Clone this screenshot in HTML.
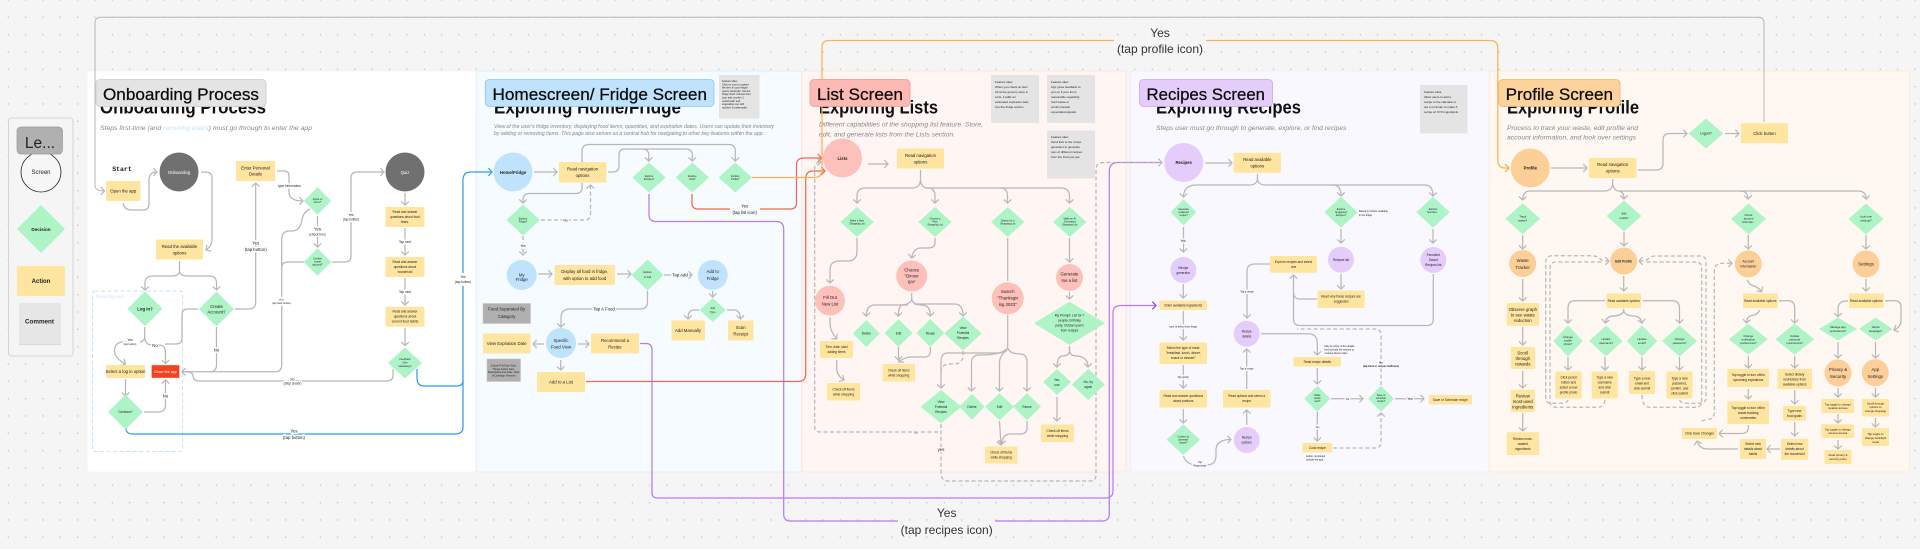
<!DOCTYPE html>
<html><head><meta charset="utf-8"><title>User flow diagram</title>
<style>
html,body{margin:0;padding:0;background:#f5f5f5;width:1920px;height:549px;overflow:hidden}
svg{display:block;filter:blur(.35px)}
text{font-family:"Liberation Sans",sans-serif;fill:#222}
.m{text-anchor:middle}
.s2{font-size:2.5px}.s3{font-size:3.2px}.s4{font-size:4.3px}.s5{font-size:5px}
.g,.d,.n,.nd{fill:none;stroke:#b7b7b7;stroke-width:1.25}
.g,.d{marker-end:url(#mg)}
.d,.nd{stroke-dasharray:4 2.5}
.b{fill:none;stroke:#2d9cfb;stroke-width:1.25}
.r{fill:none;stroke:#f3694e;stroke-width:1.25}
.o{fill:none;stroke:#fdb154;stroke-width:1.25}
.p{fill:none;stroke:#b67bf5;stroke-width:1.25}
.sub{font-size:6.2px;font-style:italic;fill:#888}
.ttl{font-size:18px;font-weight:bold;fill:#111}
.tag{font-size:17px;fill:#0b0b0b;stroke:#0b0b0b;stroke-width:.25px}
.big{font-size:12px;fill:#333;text-anchor:middle}
.cv{paint-order:stroke;stroke-width:3px;stroke-linejoin:round}
.cw{stroke:#fff}.cb{stroke:#f6fbff}.cr{stroke:#fff6f4}.cp{stroke:#faf8ff}.co{stroke:#fff8f2}.cg{stroke:#f5f5f5}
.nt{font-size:3px;fill:#333}
.gy{font-size:2.5px;fill:#aaa}
</style></head>
<body>
<svg width="1920" height="549" viewBox="0 0 1920 549" xmlns="http://www.w3.org/2000/svg">
<defs>
<pattern id="dots" width="17.333" height="17.333" patternUnits="userSpaceOnUse" patternTransform="translate(0 -8.667)"><circle cx="8.33" cy="8.667" r=".7" fill="#bdbdbd"/></pattern>
<marker id="mg" markerUnits="userSpaceOnUse" markerWidth="10" markerHeight="10" refX="5" refY="5" orient="auto" viewBox="0 0 10 10"><path d="M1.4 1.2 5 5 1.4 8.8" fill="none" stroke="#b7b7b7" stroke-width="1.2"/></marker>
<marker id="mb" markerUnits="userSpaceOnUse" markerWidth="10" markerHeight="10" refX="5" refY="5" orient="auto" viewBox="0 0 10 10"><path d="M1.4 1.2 5 5 1.4 8.8" fill="none" stroke="#2d9cfb" stroke-width="1.2"/></marker>
<marker id="mr" markerUnits="userSpaceOnUse" markerWidth="10" markerHeight="10" refX="5" refY="5" orient="auto" viewBox="0 0 10 10"><path d="M1.4 1.2 5 5 1.4 8.8" fill="none" stroke="#f3694e" stroke-width="1.2"/></marker>
<marker id="mo" markerUnits="userSpaceOnUse" markerWidth="10" markerHeight="10" refX="5" refY="5" orient="auto" viewBox="0 0 10 10"><path d="M1.4 1.2 5 5 1.4 8.8" fill="none" stroke="#fda63c" stroke-width="1.2"/></marker>
<marker id="mp" markerUnits="userSpaceOnUse" markerWidth="10" markerHeight="10" refX="5" refY="5" orient="auto" viewBox="0 0 10 10"><path d="M1.4 1.2 5 5 1.4 8.8" fill="none" stroke="#9333ea" stroke-width="1.2"/></marker>
<path id="dm" d="M-1 0 0-1 1 0 0 1z" fill="#aef4c7"/>
</defs>
<rect width="1920" height="549" fill="#f5f5f5"/>
<rect width="1920" height="549" fill="url(#dots)"/>

<!-- panels -->
<rect x="87" y="71" width="389" height="401" rx="3" fill="#fff" stroke="#f0f0f0" stroke-width=".6"/>
<rect x="476.3" y="71" width="325.4" height="401" rx="3" fill="#f6fbff" stroke="#d8ecfb" stroke-width=".7"/>
<rect x="801.7" y="71" width="324.3" height="401" rx="3" fill="#fff6f4" stroke="#fbe0dc" stroke-width=".7"/>
<rect x="1130.7" y="71" width="359.3" height="401" rx="3" fill="#faf8ff" stroke="#eee6fb" stroke-width=".7"/>
<rect x="1489.3" y="71" width="420" height="401" rx="3" fill="#fff8f2" stroke="#fde6cf" stroke-width=".7"/>

<!-- titles -->
<text class="ttl" x="100" y="113.5" textLength="166" lengthAdjust="spacingAndGlyphs">Onboarding Process</text>
<text class="ttl" x="494" y="113.5" textLength="187" lengthAdjust="spacingAndGlyphs">Exploring Home/Fridge</text>
<text class="ttl" x="819" y="113.5" textLength="119" lengthAdjust="spacingAndGlyphs">Exploring Lists</text>
<text class="ttl" x="1156" y="113.5" textLength="145" lengthAdjust="spacingAndGlyphs">Exploring Recipes</text>
<text class="ttl" x="1507" y="113.5" textLength="132" lengthAdjust="spacingAndGlyphs">Exploring Profile</text>

<text class="sub" x="100" y="130" textLength="212" lengthAdjust="spacingAndGlyphs">Steps first-time (and <tspan fill="#bfe0fb">recurring users</tspan>) must go through to enter the app</text>
<text class="sub" x="494" y="128" textLength="280" lengthAdjust="spacingAndGlyphs" style="font-size:5.2px">View of the user's fridge inventory, displaying food items, quantities, and expiration dates. Users can update their inventory</text>
<text class="sub" x="494" y="135" textLength="270" lengthAdjust="spacingAndGlyphs" style="font-size:5.2px">by adding or removing items. This page also serves as a central hub for navigating to other key features within the app.</text>
<text class="sub" x="819" y="126.5" textLength="164" lengthAdjust="spacingAndGlyphs">Different capabilities of the shopping list feature. Store,</text>
<text class="sub" x="819" y="136.5" textLength="136" lengthAdjust="spacingAndGlyphs">edit, and generate lists from the Lists section.</text>
<text class="sub" x="1156" y="130" textLength="190.5" lengthAdjust="spacingAndGlyphs">Steps user must go through to generate, explore, or find recipes</text>
<text class="sub" x="1507" y="130" textLength="131" lengthAdjust="spacingAndGlyphs">Process to track your waste, edit profile and</text>
<text class="sub" x="1507" y="139.5" textLength="129" lengthAdjust="spacingAndGlyphs">account information, and look over settings</text>

<!-- legend -->
<rect x="8.5" y="118" width="64.5" height="238" rx="3" fill="#f5f5f5" stroke="#ccc" stroke-width=".8"/>
<circle cx="41" cy="172" r="20" fill="#f7f7f7" stroke="#222" stroke-width=".8"/>
<use href="#dm" transform="translate(41 229) scale(24)"/>
<rect x="17" y="266" width="48" height="30" rx="1" fill="#ffe59f"/>
<rect x="19" y="304" width="42" height="41" fill="#d8d8d8"/>
<rect x="19" y="303" width="42" height="41" fill="#e6e6e6"/>
<rect x="17" y="127" width="45.5" height="27" rx="4" fill="#b0b0b0" stroke="#999" stroke-width=".7"/>
<text class="m" x="40" y="148" style="font-size:15.5px">Le...</text>
<text class="m" x="41" y="174.2" style="font-size:6px">Screen</text>
<text class="m" x="41" y="231" style="font-size:4.6px;font-weight:bold">Decision</text>
<text class="m" x="41" y="283" style="font-size:6px;font-weight:bold">Action</text>
<text class="m" x="39.5" y="323.5" style="font-size:6.3px;font-weight:bold">Comment</text>

<!-- long connectors: grey -->
<path class="g" d="M1764 122V23Q1764 17.3 1758 17.3H101Q95 17.3 95 23V185Q95 191 104.5 191" style="stroke-width:1"/>

<!-- onboarding connectors -->
<rect x="92.5" y="291" width="90" height="160.5" rx="2" fill="none" stroke="#c5e3fb" stroke-width="1" stroke-dasharray="4 2.5"/>
<path class="g" d="M123 203Q124 210 132 210H143Q149 210 149 204V180Q149 172 157 172"/>
<path class="g" d="M201 172H205Q212 172 212 178V240Q212 246 206 250"/>
<path class="n" d="M179.5 261V272"/>
<path class="g" d="M179.5 272Q178 276 172 276H153Q145 276 145 283V290"/>
<path class="g" d="M179.5 272Q181 276 187 276H209Q216.5 276 216.5 283V290"/>
<path class="g" d="M235 309H249Q255.7 309 255.7 302V183"/>
<path class="g" d="M277 171H284Q289 171 289 176V192Q289 201 303 201"/>
<path class="n" d="M310 209Q303 212 302 220Q300 231 292 231H288Q281.7 232 281.7 240V365Q281.7 371.7 275 371.7H210"/>
<path class="n" d="M304 262H288Q281.7 262 281.7 268"/>
<path class="g" d="M317.5 216V247"/>
<path class="g" d="M332 262H345Q351 262 351 256V178Q351 172 357 172H384"/>
<path class="g" d="M405 193V205"/>
<path class="g" d="M405 228V255"/>
<path class="g" d="M405 278V305"/>
<path class="g" d="M405 328V345.5"/>
<path class="g" d="M216.5 327V365Q216.5 371.7 210 371.7H182"/>
<path class="n" d="M393 369V375Q393 381 387 381H199Q193 381 193 375Q192 372 186 371.7"/>
<path class="n" d="M144.7 327V337Q144.7 341 140 342"/>
<path class="g" d="M133 342H122Q114.5 343 114.5 351Q114.5 358 125.5 364"/>
<path class="g" d="M144.7 337Q145 345 152 345H160Q165.5 346 165.5 353V363.5"/>
<path class="n" d="M165 344H176Q182 344 182 338V315Q182 309 188 309H198"/>
<path class="g" d="M125.5 379V396"/>
<path class="g" d="M144 412H158Q165.5 412 165.5 405V380"/>
<path class="b" d="M125.5 428Q126 434 133 434H455Q463 434 463 427V286M463 273V180Q463 172 471 172H492" style="marker-end:url(#mb)"/>
<path class="b" d="M417 369V378Q417 386 424 386H457Q463 386 463 380"/>

<!-- home connectors -->
<path class="g" d="M534 172H557"/>
<path class="g" d="M582 162V151Q582 144.5 589 144.5H729Q735.3 144.5 735.3 151V161"/>
<path class="g" d="M608 172H613Q619 172 619 166V155Q619 149 625 149H686Q692.3 149 692.3 155V161"/>
<path class="g" d="M642 149Q648.7 149 648.7 155V161"/>
<path class="g" d="M582 183V188Q582 193.5 575 193.5H530Q523 193.5 523 200V203"/>
<path class="d" d="M541 220H584Q590.5 220 590.5 214V185"/>
<path class="d" d="M523 236V255"/>
<path class="g" d="M538 274H552"/>
<path class="g" d="M617 274H631"/>
<path class="g" d="M664 275H692"/>
<path class="g" d="M712.7 291V297"/>
<path class="g" d="M699 310H694Q688 310 688 319"/>
<path class="g" d="M727 310H734Q740 310 740.5 319"/>
<path class="g" d="M647.5 291V302Q647.5 309 640 309H570Q561 309 561 318V327"/>
<path class="g" d="M544 344H533"/>
<path class="g" d="M578 344H589"/>
<path class="g" d="M560.7 360V370"/>

<!-- colored long lines -->
<path class="p" d="M640 343.5H646Q652 343.5 652 350V493Q652 498 658 498H1105Q1113 498 1113 491V313Q1113 305.5 1121 305.5H1156" style="marker-end:url(#mp)"/>
<path class="p" d="M649 194V215Q649 221.5 656 221.5H776Q783.7 221.5 783.7 229V514Q783.7 521 790 521H898M995 521H1102Q1109.3 521 1109.3 514V171Q1109.3 162.5 1118 162.5H1162" style="marker-end:url(#mg)"/>
<path class="r" d="M692 194V203Q692 209 698 209H730M760 209H790Q796.5 209 796.5 203V165Q796.5 158 804 158H821.5" style="marker-end:url(#mr)"/>
<path class="r" d="M586 381.5H798Q805.7 381.5 805.7 374V179Q805.7 171 813 171H825" style="marker-end:url(#mr)"/>
<path class="o" d="M752 177.5H814Q822 177.5 822 170V47Q822 40.5 829 40.5H1114M1206 40.5H1490Q1497.8 40.5 1497.8 48V160Q1497.8 168 1505 168H1509" style="marker-end:url(#mo)"/>

<!-- list connectors -->
<path class="g" d="M868 164H888"/>
<path class="n" d="M920.5 170V180"/>
<path class="g" d="M920.5 180Q920 188 912 188H865Q857 188 857 196V203"/>
<path class="g" d="M920.5 180Q921 188 928 188Q935 188 935 196V203"/>
<path class="g" d="M925 188H1000Q1007.5 188 1007.5 196V203"/>
<path class="g" d="M1000 188H1061Q1069.5 188 1069.5 196V203"/>
<path class="g" d="M857 238V251Q857 261 848 261H838Q830 262 830 270V283"/>
<path class="g" d="M935 238V243Q935 248 928 248H920Q913 249 911.7 258"/>
<path class="g" d="M1069.5 238V262"/>
<path class="g" d="M1069.5 292V299"/>
<path class="n" d="M1007.7 238V281"/>
<path class="g" d="M1069.5 346V350Q1069.5 356 1062 356Q1057 357 1057 367"/>
<path class="g" d="M1069.5 346V350Q1069.5 356 1077 356Q1088 357 1088 367"/>
<path class="g" d="M1057 397V421"/>
<path class="g" d="M830 317V323Q830 331 836.7 339"/>
<path class="g" d="M836.7 360V368Q837 376 844 380"/>
<path class="n" d="M911.7 293V300"/>
<path class="g" d="M911.7 300Q909 305 900 305H875Q866.3 305 866.3 316"/>
<path class="g" d="M908 305H903Q898.3 305 898.3 316"/>
<path class="g" d="M912 300Q914 305 922 305Q930.3 305 930.3 316"/>
<path class="g" d="M914 304H955Q963 304 963 316"/>
<path class="g" d="M898.5 347V360"/>
<path class="g" d="M930.3 347V352Q930 357 924 357H910Q903 358 899 362"/>
<path class="n" d="M1007.7 315V348"/>
<path class="g" d="M1007.7 348Q1005 353 998 353H948Q941 353 941 361V388"/>
<path class="g" d="M1007.7 348Q1003 355 979 355Q971.5 355 971.5 363V391"/>
<path class="g" d="M1007 350Q1000 355 999.5 362V391"/>
<path class="g" d="M1007.7 348Q1010 354 1020 354Q1027 354 1027 362V391"/>
<path class="g" d="M999.5 421L1001 445"/>
<path class="g" d="M1027 421V428Q1027 434 1020 434H1010Q1003 434 1001.5 444"/>
<path class="nd" d="M963 351V355Q963 363 955 364H948Q941 365 941 372"/>
<path class="d" d="M938 432H820Q814.7 432 814.7 427V168Q814.7 162 821 162"/>
<path class="nd" d="M941 424V472Q941 481 948 481H1090Q1096 481 1096 475V170Q1096 162.5 1103 162.5H1162"/>

<!-- recipes connectors -->
<path class="g" d="M1205 163H1232"/>
<path class="n" d="M1257.5 174V179"/>
<path class="g" d="M1257.5 179Q1257 185 1249 185H1195Q1183.5 186 1183.5 197"/>
<path class="g" d="M1257.5 179Q1258 185 1266 185H1333Q1341 185 1341 196"/>
<path class="g" d="M1330 185H1425Q1433 185 1433 196"/>
<path class="g" d="M1183.5 227V252"/>
<path class="g" d="M1341 229V243"/>
<path class="g" d="M1433 229V243"/>
<path class="g" d="M1341 274V289"/>
<path class="g" d="M1183.3 284V298"/>
<path class="g" d="M1183.3 311V340"/>
<path class="g" d="M1183.3 365V388"/>
<path class="g" d="M1183.3 409V423"/>
<path class="g" d="M1270 264H1255Q1247 264 1247 271V318"/>
<path class="n" d="M1317 299H1300Q1293.5 299 1293.5 292"/>
<path class="g" d="M1433.3 274V319Q1433.3 325.5 1427 325.5H1300Q1293.5 325.5 1293.5 319V275"/>
<path class="g" d="M1183.5 456Q1186 464.7 1196 464.7H1208Q1216 464.7 1216 455V449Q1217 439.5 1231 439.5"/>
<path class="g" d="M1246.7 425V410"/>
<path class="g" d="M1246.7 389V349"/>
<path class="g" d="M1261 333.7H1308Q1317.3 333.7 1317.3 343V355"/>
<path class="g" d="M1317.3 368V384"/>
<path class="g" d="M1331 398.7H1363"/>
<path class="g" d="M1395 398.7H1424"/>
<path class="g" d="M1317.3 412V441"/>
<path class="d" d="M1333 448H1375Q1381 448 1381 442V413"/>
<path class="nd" d="M1381 385V335Q1381 329 1375 329H1297"/>

<!-- profile connectors -->
<path class="g" d="M1551 168H1587"/>
<path class="g" d="M1638 170H1656Q1663 170 1663 163V140Q1663 133.5 1670 133.5H1687"/>
<path class="g" d="M1725 133.5H1739"/>
<path class="n" d="M1612.7 179V184"/>
<path class="g" d="M1612.7 184Q1612 191 1604 191H1530Q1522.7 191 1522.7 200"/>
<path class="g" d="M1612.7 184Q1614 191 1619 191Q1624 192 1624 199"/>
<path class="g" d="M1620 191H1740Q1748 191 1748 199"/>
<path class="g" d="M1740 191H1858Q1866 191 1866 199"/>
<path class="g" d="M1522.7 235V249"/>
<path class="g" d="M1624 232V246"/>
<path class="g" d="M1748.3 235V249"/>
<path class="g" d="M1866 235V249"/>
<path class="g" d="M1522.7 279V301"/>
<path class="g" d="M1522.7 327V345"/>
<path class="g" d="M1522.7 371V388"/>
<path class="g" d="M1522.7 413V431"/>
<path class="g" d="M1623.7 276V291"/>
<path class="g" d="M1605 300.7H1575Q1568 300.7 1568 308V323"/>
<path class="g" d="M1643 300.7H1672Q1679.5 300.7 1679.5 308V323"/>
<path class="g" d="M1623.7 309V311Q1622 316 1612 316Q1606 317 1605 323"/>
<path class="g" d="M1623.7 309V311Q1625 316 1635 316Q1641 317 1642 323"/>
<path class="g" d="M1568 357V370"/>
<path class="g" d="M1605 357V370"/>
<path class="g" d="M1642 357V370"/>
<path class="g" d="M1679.5 357V370"/>
<path class="d" d="M1568 400Q1567 403.3 1562 403.3H1550Q1545.7 403 1545.7 398V262Q1545.7 255.7 1552 255.7H1592Q1598 256 1600 259Q1602 261 1609 261"/>
<path class="nd" d="M1605 400Q1604 407.3 1598 407.3H1556Q1550 407 1550 401V268Q1550 262 1556 262H1603"/>
<path class="d" d="M1679.5 400Q1681 403.3 1686 403.3H1700Q1706 403 1706 398V262Q1706 256 1700 256H1656Q1650 256 1648 259Q1646 261 1639 261"/>
<path class="nd" d="M1642 395Q1642 407.3 1650 407.3H1696Q1701.7 407 1701.7 401V268Q1701.7 262 1696 262H1645"/>
<path class="d" d="M1701.7 421Q1707 419 1710 419Q1714.3 418 1714.3 412V272Q1714.3 263.3 1722 263.3H1732"/>
<path class="g" d="M1747.3 280Q1749 285 1755 286.5Q1759 288 1761.7 291.7"/>
<path class="g" d="M1760 310Q1757 315 1752 315.5Q1747 316 1746.5 323"/>
<path class="g" d="M1779 300.7H1788Q1794.7 300.7 1794.7 308V323"/>
<path class="g" d="M1748.3 356V368"/>
<path class="g" d="M1748.3 389V399"/>
<path class="g" d="M1748.3 425V428Q1748 433.5 1741 433.5H1719"/>
<path class="g" d="M1794.7 356V368"/>
<path class="g" d="M1794.7 390V404"/>
<path class="g" d="M1794.7 422V436"/>
<path class="g" d="M1780 449H1767"/>
<path class="g" d="M1738 449H1708Q1699 449 1697 441"/>
<path class="g" d="M1866 279V291"/>
<path class="g" d="M1848 301H1845Q1838 302 1838 309V316.7"/>
<path class="g" d="M1885 300.7H1895Q1901 301 1901 307V320Q1901 327 1894 330"/>
<path class="g" d="M1838 342V358"/>
<path class="g" d="M1875.5 342V358"/>
<path class="g" d="M1838 388V397"/>
<path class="g" d="M1838 414V423"/>
<path class="g" d="M1838 440V449"/>
<path class="g" d="M1875.5 388V397"/>
<path class="g" d="M1875.5 418V427"/>

<!-- action rects -->
<g fill="#ffe59f">
<rect x="106" y="181" width="34.5" height="20" rx="1"/>
<rect x="156" y="239.5" width="47" height="20" rx="1"/>
<rect x="236" y="161" width="39" height="20" rx="1"/>
<rect x="385.5" y="207" width="39" height="20" rx="1"/>
<rect x="385.5" y="257" width="39" height="20" rx="1"/>
<rect x="385.5" y="306.7" width="39" height="20" rx="1"/>
<rect x="106" y="365" width="39" height="13" rx="1"/>
<rect x="559" y="162" width="47.5" height="20.5" rx="1"/>
<rect x="554.5" y="265" width="60.5" height="20" rx="1"/>
<rect x="671.5" y="320.5" width="33.5" height="20" rx="1"/>
<rect x="728" y="320.5" width="25.5" height="20" rx="1"/>
<rect x="483" y="333.5" width="47.5" height="20" rx="1"/>
<rect x="591" y="333.5" width="48" height="20" rx="1"/>
<rect x="537" y="372" width="48" height="20" rx="1"/>
<rect x="897" y="148.5" width="47" height="20" rx="1"/>
<rect x="820" y="341" width="33" height="17" rx="1"/>
<rect x="827" y="383" width="33" height="17.5" rx="1"/>
<rect x="882.5" y="364" width="32.5" height="17.5" rx="1"/>
<rect x="985" y="446.5" width="32.5" height="17" rx="1"/>
<rect x="1041" y="424.5" width="33" height="17.5" rx="1"/>
<rect x="1233.7" y="152.7" width="47.3" height="20" rx="1"/>
<rect x="1270" y="256" width="47" height="16.7" rx="1"/>
<rect x="1317.5" y="290.5" width="47.2" height="17.5" rx="1"/>
<rect x="1159.5" y="300.5" width="47.5" height="9.5" rx="1"/>
<rect x="1159.5" y="342.5" width="47.5" height="21.5" rx="1"/>
<rect x="1159.5" y="390" width="47.5" height="17.5" rx="1"/>
<rect x="1223" y="390" width="47.5" height="17.5" rx="1"/>
<rect x="1293.5" y="357" width="47.5" height="9.5" rx="1"/>
<rect x="1428.7" y="395" width="43.3" height="9.5" rx="1"/>
<rect x="1302.5" y="443" width="29.5" height="9.5" rx="1"/>
<rect x="1589" y="158" width="47.5" height="20" rx="1"/>
<rect x="1741" y="123.3" width="47" height="20" rx="1"/>
<rect x="1506.7" y="303" width="32.3" height="22.7" rx="1"/>
<rect x="1510.7" y="347" width="24.3" height="22" rx="1"/>
<rect x="1510.7" y="389.7" width="24.3" height="22.3" rx="1"/>
<rect x="1506.7" y="432.3" width="32.3" height="22.7" rx="1"/>
<rect x="1606.5" y="293.5" width="34.5" height="14.5" rx="1"/>
<rect x="1555.3" y="371.5" width="26.4" height="27" rx="1"/>
<rect x="1591.7" y="371.5" width="26" height="27" rx="1"/>
<rect x="1629" y="371" width="26" height="23" rx="1"/>
<rect x="1666.5" y="371.5" width="26" height="27" rx="1"/>
<rect x="1743" y="293.5" width="34.7" height="14.5" rx="1"/>
<rect x="1727.3" y="369" width="41.7" height="18" rx="1"/>
<rect x="1727.3" y="401.3" width="41.7" height="22.7" rx="1"/>
<rect x="1682" y="428" width="35" height="11" rx="1"/>
<rect x="1777.5" y="369" width="34.5" height="20" rx="1"/>
<rect x="1783" y="406" width="23" height="14.7" rx="1"/>
<rect x="1781" y="438.7" width="27.3" height="21" rx="1"/>
<rect x="1740" y="439" width="26" height="20" rx="1"/>
<rect x="1849" y="293.5" width="34.7" height="14.5" rx="1"/>
<rect x="1821.5" y="399" width="32.5" height="14" rx="1"/>
<rect x="1821.5" y="424.3" width="32.5" height="13.7" rx="1"/>
<rect x="1824.5" y="450" width="27" height="14" rx="1"/>
<rect x="1862" y="399" width="27" height="17.5" rx="1"/>
<rect x="1862" y="428.3" width="27" height="17.7" rx="1"/>
</g>
<rect x="151.5" y="365" width="28" height="13" fill="#f2431e" stroke="#d9d9d9" stroke-width=".5"/>

<!-- dark / comment rects -->
<rect x="483" y="303.5" width="47.5" height="20" fill="#b0b0b0" stroke="#c4c4c4" stroke-width=".5"/>
<rect x="487" y="359" width="33.5" height="22.5" fill="#b0b0b0" stroke="#c4c4c4" stroke-width=".5"/>
<g fill="#e4e4e4">
<rect x="719" y="75" width="40.5" height="43.5"/>
<rect x="991" y="75" width="48" height="48"/>
<rect x="1047" y="75" width="48" height="48"/>
<rect x="1047" y="130.5" width="48" height="48"/>
<rect x="1420" y="85" width="47.5" height="48.5"/>
</g>

<!-- circles -->
<g fill="#707070"><circle cx="179" cy="172" r="19.5"/><circle cx="405" cy="172" r="19.5"/></g>
<g fill="#bfe3fd"><circle cx="513" cy="172" r="19.5"/><circle cx="521.7" cy="275" r="15"/><circle cx="712.7" cy="275" r="15"/><circle cx="561" cy="343" r="15"/></g>
<g fill="#fec0ba"><circle cx="842.5" cy="158" r="19.5"/><circle cx="830" cy="300.7" r="15"/><circle cx="911.7" cy="276" r="15.5"/><circle cx="1007.7" cy="298.3" r="16"/><circle cx="1069.5" cy="277.5" r="13.5"/></g>
<g fill="#e4cdfb"><circle cx="1183.7" cy="162.5" r="19.5"/><circle cx="1183.3" cy="270" r="13"/><circle cx="1341" cy="259.7" r="13"/><circle cx="1433.3" cy="260" r="13"/><circle cx="1246.7" cy="333.7" r="13"/><circle cx="1246.7" cy="440" r="13"/></g>
<g fill="#fdcf98"><circle cx="1530.3" cy="168" r="19.5"/><circle cx="1522.7" cy="263.5" r="13.5"/><circle cx="1623.7" cy="261" r="13.5"/><circle cx="1748.3" cy="264" r="13.5"/><circle cx="1866" cy="264" r="13.5"/><circle cx="1838" cy="373" r="13.5"/><circle cx="1875.3" cy="372.7" r="13.5"/></g>

<!-- diamonds -->
<use href="#dm" transform="translate(145 308.7) scale(17.5)"/>
<use href="#dm" transform="translate(216.5 309) scale(17.5)"/>
<use href="#dm" transform="translate(317.5 201) scale(13.7)"/>
<use href="#dm" transform="translate(317.5 262) scale(13.7)"/>
<use href="#dm" transform="translate(405 363) scale(17 15.5)"/>
<use href="#dm" transform="translate(125.5 412) scale(17.5)"/>
<use href="#dm" transform="translate(649 177.5) scale(16.7 15)"/>
<use href="#dm" transform="translate(692.3 177.5) scale(16.7 15)"/>
<use href="#dm" transform="translate(735.3 177.5) scale(16.7 15)"/>
<use href="#dm" transform="translate(523 220) scale(16.7 15.5)"/>
<use href="#dm" transform="translate(647.5 275) scale(16 15.5)"/>
<use href="#dm" transform="translate(712.7 310) scale(13 12)"/>
<use href="#dm" transform="translate(857 222) scale(16.7 15)"/>
<use href="#dm" transform="translate(935 222) scale(16.7 15)"/>
<use href="#dm" transform="translate(1007.7 222) scale(16.7 15)"/>
<use href="#dm" transform="translate(1069.7 222) scale(16.7 15)"/>
<use href="#dm" transform="translate(866.3 333.5) scale(13.5)"/>
<use href="#dm" transform="translate(898.5 333) scale(14)"/>
<use href="#dm" transform="translate(930.3 333) scale(14)"/>
<use href="#dm" transform="translate(963 333.5) scale(18.7 17)"/>
<use href="#dm" transform="translate(941 406.7) scale(20.5 16.7)"/>
<use href="#dm" transform="translate(972 406.7) scale(12.7 13)"/>
<use href="#dm" transform="translate(999.5 406.7) scale(14.5 13.5)"/>
<use href="#dm" transform="translate(1027 406.7) scale(14 13.5)"/>
<use href="#dm" transform="translate(1069.5 323.3) scale(35.5 21.7)"/>
<use href="#dm" transform="translate(1057 382) scale(14 13)"/>
<use href="#dm" transform="translate(1088.3 384.5) scale(16.6 15.5)"/>
<use href="#dm" transform="translate(1183.5 212.3) scale(13)"/>
<use href="#dm" transform="translate(1341 212.3) scale(16.7 15.5)"/>
<use href="#dm" transform="translate(1433 212.3) scale(16.7 15.5)"/>
<use href="#dm" transform="translate(1183.3 439.7) scale(16.7 15.3)"/>
<use href="#dm" transform="translate(1317.3 398.7) scale(13)"/>
<use href="#dm" transform="translate(1381 398.7) scale(13)"/>
<use href="#dm" transform="translate(1706 133.5) scale(17.3 15)"/>
<use href="#dm" transform="translate(1522.7 218.7) scale(17.5 15.5)"/>
<use href="#dm" transform="translate(1624 216) scale(17.5 15.5)"/>
<use href="#dm" transform="translate(1748.5 219) scale(17.5 15.5)"/>
<use href="#dm" transform="translate(1866 219) scale(17.5 15.5)"/>
<use href="#dm" transform="translate(1568 341) scale(14.7 15.5)"/>
<use href="#dm" transform="translate(1606 341) scale(16.7 15.5)"/>
<use href="#dm" transform="translate(1642 341) scale(15.3 15.5)"/>
<use href="#dm" transform="translate(1679.5 341) scale(17.5 15.5)"/>
<use href="#dm" transform="translate(1748.3 339.3) scale(19.5 15.5)"/>
<use href="#dm" transform="translate(1794.7 339.3) scale(19.5 15.5)"/>
<use href="#dm" transform="translate(1838 329) scale(19 11.5)"/>
<use href="#dm" transform="translate(1875.7 329) scale(16.7 11.5)"/>

<!-- tags -->
<rect x="96" y="79.5" width="170" height="27" rx="4" fill="#e4e4e4" stroke="#ccc" stroke-width=".8"/>
<rect x="485.3" y="79.5" width="228.7" height="27" rx="4" fill="#bfe3fd" stroke="#8dc6ef" stroke-width=".8"/>
<rect x="810" y="79.5" width="100" height="27" rx="4" fill="#fdb9b3" stroke="#e79c95" stroke-width=".8"/>
<rect x="1139.5" y="79.5" width="133" height="27" rx="4" fill="#e4cdfb" stroke="#c9a9ec" stroke-width=".8"/>
<rect x="1498.7" y="79.5" width="121.3" height="27" rx="4" fill="#fdd39b" stroke="#e7b87a" stroke-width=".8"/>
<text class="tag" x="103" y="100" textLength="156" lengthAdjust="spacingAndGlyphs">Onboarding Process</text>
<text class="tag" x="492.5" y="100" textLength="214.5" lengthAdjust="spacingAndGlyphs">Homescreen/ Fridge Screen</text>
<text class="tag" x="817" y="100" textLength="86" lengthAdjust="spacingAndGlyphs">List Screen</text>
<text class="tag" x="1146.5" y="100" textLength="118.5" lengthAdjust="spacingAndGlyphs">Recipes Screen</text>
<text class="tag" x="1505.7" y="100" textLength="107.3" lengthAdjust="spacingAndGlyphs">Profile Screen</text>

<!-- big labels -->
<text class="big" x="1160" y="37">Yes</text>
<text class="big" x="1160" y="53">(tap profile icon)</text>
<text class="big" x="946.7" y="517">Yes</text>
<text class="big" x="946.7" y="534">(tap recipes icon)</text>

<!-- onboarding text -->
<text class="m" x="122" y="171" style="font-family:'Liberation Mono',monospace;font-size:6.5px;font-weight:bold">Start</text>
<g class="s4">
<text class="m" x="123.3" y="192.6">Open the app</text>
<text class="m" x="179.5" y="248">Read the available</text><text class="m" x="179.5" y="254.5">options</text>
<text class="m" x="255.5" y="169.5">Enter Personal</text><text class="m" x="255.5" y="175.5">Details</text>
<text class="m" x="125.5" y="373">Select a log in option</text>
<text class="m" x="165.5" y="373" style="fill:#fff;font-size:3.8px">Close the app</text>
<text class="m" x="179" y="174" style="fill:#fff">Onboarding</text>
<text class="m" x="405" y="174" style="fill:#fff">Quiz</text>
<text class="m" x="145" y="310.3" style="font-weight:bold">Log in?</text>
<text class="m" x="216.5" y="308">Create</text><text class="m" x="216.5" y="313.5">Account?</text>
</g>
<g class="s3">
<text class="m" x="405" y="213">Read and answer</text><text class="m" x="405" y="218">questions about food</text><text class="m" x="405" y="223">fears.</text>
<text class="m" x="405" y="263">Read and answer</text><text class="m" x="405" y="268">questions about</text><text class="m" x="405" y="273">household</text>
<text class="m" x="405" y="312.5">Read and answer</text><text class="m" x="405" y="317.5">questions about</text><text class="m" x="405" y="322.5">current food habits</text>
<text class="m" x="125.5" y="413">Continue?</text>
</g>
<g class="s2">
<text class="m" x="317.5" y="200">Agree to</text><text class="m" x="317.5" y="203">terms?</text>
<text class="m" x="317.5" y="259.5">Confirm</text><text class="m" x="317.5" y="262.5">create</text><text class="m" x="317.5" y="265.5">account?</text>
<text class="m" x="405" y="360">Feedback</text><text class="m" x="405" y="363.5">(See</text><text class="m" x="405" y="367">takeaways)</text>
</g>
<text x="96" y="298" style="font-size:4.3px;fill:#c5e3fb">Recurring user</text>
<g class="cv cw">
<text class="m s3" x="289.5" y="187">type information</text>
<text class="m s4" x="255.7" y="244.5">Yes</text><text class="m s4" x="255.7" y="251">(tap button)</text>
<text class="m s4" x="317.5" y="230.5">Yes</text><text class="m s3" x="317.5" y="235.5">(check box)</text>
<text class="m s3" x="351" y="216">Yes</text><text class="m s3" x="351" y="220.5">(tap button)</text>
<text class="m s3" x="405" y="243">Tap next</text><text class="m s3" x="405" y="293">Tap next</text>
<text class="m s3" x="281.5" y="301">No</text><text class="m s2" x="281.5" y="304">(tap back button)</text>
<text class="m s4" x="216.5" y="351.5">No</text>
<text class="m s3" x="292.5" y="380.5">No</text><text class="m s3" x="292.5" y="384.5">(Step closer)</text>
<text class="m s3" x="130" y="341">Yes</text><text class="m s2" x="130" y="345">(tap button)</text>
<text class="m s4" x="155" y="347">No</text>
<text class="m s4" x="165.5" y="397.5">No</text>
<text class="m s4" x="294" y="432.5">Yes</text><text class="m s4" x="294" y="439">(tap button)</text>
<text class="m s3" x="463" y="278">Yes</text><text class="m s3" x="463" y="283">(tap button)</text>
</g>

<!-- home text -->
<g class="s4">
<text class="m" x="513" y="174" style="font-weight:bold">Home/Fridge</text>
<text class="m" x="582.5" y="170.5">Read navigation</text><text class="m" x="582.5" y="177">options</text>
<text class="m" x="521.7" y="276.5">My</text><text class="m" x="521.7" y="281">Fridge</text>
<text class="m" x="584.7" y="273">Display all food in fridge,</text><text class="m" x="584.7" y="280">with option to add food</text>
<text class="m" x="712.7" y="273">Add to</text><text class="m" x="712.7" y="280">Fridge</text>
<text class="m" x="688" y="332">Add Manually</text>
<text class="m" x="740.7" y="329">Scan</text><text class="m" x="740.7" y="335.5">Receipt</text>
<text class="m" x="506.7" y="310.5">Food Separated By</text><text class="m" x="506.7" y="318">Category</text>
<text class="m" x="506.7" y="345">View Expiration Date</text>
<text class="m" x="561" y="342">Specific</text><text class="m" x="561" y="348.5">Food View</text>
<text class="m" x="615" y="342">Recommend a</text><text class="m" x="615" y="348.5">Recipe</text>
<text class="m" x="561" y="383.5">Add to a List</text>
</g>
<g class="s2">
<text class="m" x="649" y="177">Explore</text><text class="m" x="649" y="180">Recipes?</text>
<text class="m" x="692.3" y="177">Explore</text><text class="m" x="692.3" y="180">Lists?</text>
<text class="m" x="735.3" y="177">Explore</text><text class="m" x="735.3" y="180">Profile?</text>
<text class="m" x="523" y="219.5">Explore</text><text class="m" x="523" y="222.5">Fridge?</text>
<text class="m" x="647.5" y="273">Explore</text><text class="m" x="647.5" y="278">or Add</text>
<text class="m" x="712.7" y="309">Add</text><text class="m" x="712.7" y="313">Type</text>
<text class="m" x="503.7" y="366.5">Include Pull Date Style:</text><text class="m" x="503.7" y="369.8">Things Gotten Next,</text><text class="m" x="503.7" y="373">Reappraisal Use Date, Style</text><text class="m" x="503.7" y="376.3">of Cartridge, Remove</text>
</g>
<g class="cv cb">
<text class="m s3" x="565.5" y="221.5">No</text>
<text class="m s3" x="523" y="247">Yes</text>
<text class="m s4" x="680" y="276.5">Tap Add</text>
<text class="m s4" x="604" y="310.5">Tap A Food</text>
<text class="m s4" x="744.7" y="207.5">Yes</text><text class="m s4" x="744.7" y="214">(tap list icon)</text>
</g>
<g class="nt" style="font-size:2.6px">
<text x="722" y="82">Feature Idea:</text><text x="722" y="85.3">Click on icon to explore</text><text x="722" y="88.6">the item in your fridge/</text><text x="722" y="91.9">pantry. Example: Gemini</text><text x="722" y="95.2">fridge shelf: it shows fruit</text><text x="722" y="98.5">(can add number 1</text><text x="722" y="101.8">underneath and</text><text x="722" y="105.1">vegetables too with</text><text x="722" y="108.4">number 3 underneath</text>
</g>

<!-- list text -->
<g class="s4">
<text class="m" x="842.5" y="160" style="font-weight:bold">Lists</text>
<text class="m" x="920.5" y="157">Read navigation</text><text class="m" x="920.5" y="163.5">options</text>
<text class="m" x="830" y="299">Fill Out</text><text class="m" x="830" y="305.5">New List</text>
<text class="m" x="911.7" y="271.5">Choose</text><text class="m" x="911.7" y="277.5">"Dinner</text><text class="m" x="911.7" y="283.5">8/4"</text>
<text class="m" x="1007.7" y="293">Search</text><text class="m" x="1007.7" y="299.5">"Thanksgiv</text><text class="m" x="1007.7" y="306">ing 2023"</text>
<text class="m" x="1069.5" y="275.5">Generate</text><text class="m" x="1069.5" y="282">me a list</text>
</g>
<g class="s3">
<text class="m" x="1069.5" y="316.5">My Prompt: List for 7</text><text class="m" x="1069.5" y="321.5">people, birthday</text><text class="m" x="1069.5" y="326.5">party, Chicken parm</text><text class="m" x="1069.5" y="331.5">from recipes</text>
<text class="m" x="866.3" y="334.5">Delete</text><text class="m" x="898.5" y="334.5">Edit</text><text class="m" x="930.3" y="334.5">Reuse</text>
<text class="m" x="963" y="329">View</text><text class="m" x="963" y="334">Potential</text><text class="m" x="963" y="339">Recipes</text>
<text class="m" x="941" y="403">View</text><text class="m" x="941" y="408">Potential</text><text class="m" x="941" y="413">Recipes</text>
<text class="m" x="972" y="408">Delete</text><text class="m" x="999.5" y="408">Edit</text><text class="m" x="1027" y="408">Reuse</text>
<text class="m" x="1057" y="381">Yes,</text><text class="m" x="1057" y="386">use</text>
<text class="m" x="1088.3" y="383">No, try</text><text class="m" x="1088.3" y="388">again</text>
<text class="m" x="836.5" y="348">Trim, date, start</text><text class="m" x="836.5" y="353">adding items</text>
<text class="m" x="843.5" y="390.5">Check off items</text><text class="m" x="843.5" y="395.5">while shopping</text>
<text class="m" x="898.7" y="371.5">Check off items</text><text class="m" x="898.7" y="376.5">while shopping</text>
<text class="m" x="1001.2" y="453.5">Check off items</text><text class="m" x="1001.2" y="458.5">while shopping</text>
<text class="m" x="1057.5" y="432">Check off items</text><text class="m" x="1057.5" y="437">while shopping</text>
</g>
<g class="s2">
<text class="m" x="857" y="221.5">Make a New</text><text class="m" x="857" y="224.5">Shopping List</text>
<text class="m" x="935" y="219.5">Choose a</text><text class="m" x="935" y="222.5">Past</text><text class="m" x="935" y="225.5">Shopping List</text>
<text class="m" x="1007.7" y="221.5">Search for a</text><text class="m" x="1007.7" y="224.5">Shopping List</text>
<text class="m" x="1069.7" y="219.5">Make an AI</text><text class="m" x="1069.7" y="222.5">Generated</text><text class="m" x="1069.7" y="225.5">Shopping List</text>
</g>
<g class="cv cr">
<text class="m s3" x="915.7" y="433.5">no</text>
<text class="m s4" x="941" y="451">yes</text>
</g>
<g class="nt">
<text x="995" y="83">Feature Idea:</text><text x="995" y="88">When you check an item</text><text x="995" y="93">off at the grocery store in</text><text x="995" y="98">a list, it adds an</text><text x="995" y="103">estimated expiration date</text><text x="995" y="108">into the fridge section</text>
<text x="1051" y="83">Feature idea:</text><text x="1051" y="88">App gives feedback to</text><text x="1051" y="93">you on if your list is</text><text x="1051" y="98">reasonable regarding</text><text x="1051" y="103">food waste or</text><text x="1051" y="108">environmental</text><text x="1051" y="113">expectations/goals.</text>
<text x="1051" y="138">Feature idea:</text><text x="1051" y="143">Send lists to the recipe</text><text x="1051" y="148">generator to generate</text><text x="1051" y="153">tons of different recipes</text><text x="1051" y="158">from the food you got.</text>
</g>

<!-- recipes text -->
<g class="s4">
<text class="m" x="1183.7" y="164" style="font-weight:bold">Recipes</text>
<text class="m" x="1257.3" y="161">Read available</text><text class="m" x="1257.3" y="167.5">options</text>
</g>
<g class="s3">
<text class="m" x="1293.5" y="263">Explore recipes and select</text><text class="m" x="1293.5" y="268">one</text>
<text class="m" x="1341" y="261">Recipes list</text>
<text class="m" x="1433.3" y="256">Favorited</text><text class="m" x="1433.3" y="261">Saved</text><text class="m" x="1433.3" y="266">Recipes list</text>
<text class="m" x="1183.3" y="269">Recipe</text><text class="m" x="1183.3" y="274">generator</text>
<text class="m" x="1341" y="297.5">Read why these recipes are</text><text class="m" x="1341" y="302.5">suggested</text>
<text class="m" x="1183.3" y="306.5">Enter available ingredients</text>
<text class="m" x="1183.3" y="349">Select the type of meal:</text><text class="m" x="1183.3" y="354">"breakfast, lunch, dinner,</text><text class="m" x="1183.3" y="359">snack or dessert"</text>
<text class="m" x="1183.3" y="397">Read and answer questions</text><text class="m" x="1183.3" y="402">about portions</text>
<text class="m" x="1246.7" y="397">Read options and select a</text><text class="m" x="1246.7" y="402">recipe</text>
<text class="m" x="1246.7" y="332.5">Recipe</text><text class="m" x="1246.7" y="337.5">details</text>
<text class="m" x="1246.7" y="438.5">Recipe</text><text class="m" x="1246.7" y="443.5">options</text>
<text class="m" x="1317.3" y="363">Read recipe details</text>
<text class="m" x="1450.3" y="400.8">Save or Schedule recipe</text>
<text class="m" x="1317.3" y="449">Cook recipe</text>
</g>
<g class="s2">
<text class="m" x="1183.5" y="210">Generate</text><text class="m" x="1183.5" y="213">a tailored</text><text class="m" x="1183.5" y="216">recipe?</text>
<text class="m" x="1341" y="210">Explore</text><text class="m" x="1341" y="213">Suggested</text><text class="m" x="1341" y="216">Recipes?</text>
<text class="m" x="1433" y="210">Explore</text><text class="m" x="1433" y="213">favorites...</text>
<text class="m" x="1183.3" y="437.5">Confirm to</text><text class="m" x="1183.3" y="440.5">generate</text><text class="m" x="1183.3" y="443.5">recipe?</text>
<text class="m" x="1317.3" y="396">Make</text><text class="m" x="1317.3" y="399">recipe</text><text class="m" x="1317.3" y="402">now?</text>
<text class="m" x="1381" y="396">Save or</text><text class="m" x="1381" y="399">schedule</text><text class="m" x="1381" y="402">recipe?</text>
</g>
<g class="gy">
<text x="1359" y="212">Based on what's available</text><text x="1359" y="216">in the fridge</text>
<text x="1324.5" y="347">May be some of the details</text><text x="1324.5" y="350.5">here include the macros or</text><text x="1324.5" y="354">reviews about recipe</text>
<text x="1306" y="457">Action completed</text><text x="1306" y="460.5">outside the app</text>
</g>
<g class="cv cp">
<text class="m s3" x="1183" y="242">Yes</text>
<text class="m s2" x="1247" y="292.5">Tap a recipe</text>
<text class="m s2" x="1183.3" y="327.5">type or select from fridge</text>
<text class="m s2" x="1183.3" y="378">Tap option</text>
<text class="m s2" x="1246.7" y="369.5">Tap a recipe</text>
<text class="m s2" x="1200" y="463">Tap</text><text class="m s2" x="1200" y="466.5">Regenerate</text>
<text class="m s2" x="1347.5" y="399.8">No</text>
<text class="m s3" x="1410" y="400">Yes</text>
<text class="m s2" x="1317.3" y="428">Yes</text>
<text class="m s2" x="1381" y="363.5" style="font-weight:bold">No</text><text class="m s2" x="1381" y="367" style="font-weight:bold">(tap back to recipes list/home)</text>
</g>
<g class="nt">
<text x="1424" y="93">Feature Idea:</text><text x="1424" y="98">Allow users to add a</text><text x="1424" y="103">recipe to the calendar or</text><text x="1424" y="108">set a reminder to make X</text><text x="1424" y="113">recipe w/ XYZ ingredients</text>
</g>

<!-- profile text -->
<g class="s4">
<text class="m" x="1530.3" y="169.5" style="font-weight:bold">Profile</text>
<text class="m" x="1612.7" y="166">Read navigation</text><text class="m" x="1612.7" y="172.5">options</text>
<text class="m" x="1764.5" y="135">Click button</text>
<text class="m" x="1522.7" y="262">Waste</text><text class="m" x="1522.7" y="269">Tracker</text>
<text class="m" x="1522.8" y="311">Observe graph</text><text class="m" x="1522.8" y="316.5">to see waste</text><text class="m" x="1522.8" y="322">reduction</text>
<text class="m" x="1522.8" y="354.5">Scroll</text><text class="m" x="1522.8" y="360">through</text><text class="m" x="1522.8" y="365.5">rewards</text>
<text class="m" x="1522.8" y="397.5">Review</text><text class="m" x="1522.8" y="403">most-used</text><text class="m" x="1522.8" y="408.5">ingredients</text>
<text class="m" x="1866" y="265.5">Settings</text>
<text class="m" x="1838" y="371">Privacy &amp;</text><text class="m" x="1838" y="378" style="font-size:4.5px">Security</text>
<text class="m" x="1875.3" y="371">App</text><text class="m" x="1875.3" y="378">Settings</text>
</g>
<g class="s3">
<text class="m" x="1706" y="134.5">Logout?</text>
<text class="m" x="1623.7" y="262.5" style="font-weight:bold">Edit Profile</text>
<text class="m" x="1748.3" y="262.5">Account</text><text class="m" x="1748.3" y="267.5">Information</text>
<text class="m" x="1522.8" y="440">Review most-</text><text class="m" x="1522.8" y="445">wasted</text><text class="m" x="1522.8" y="450">ingredients</text>
<text class="m" x="1623.7" y="302">Read available options</text>
<text class="m" x="1760.3" y="302">Read available options</text>
<text class="m" x="1866.3" y="302">Read available options</text>
<text class="m" x="1568.5" y="378.5">Click pencil</text><text class="m" x="1568.5" y="383.5">button and</text><text class="m" x="1568.5" y="388.5">select a new</text><text class="m" x="1568.5" y="393.5">profile photo</text>
<text class="m" x="1604.7" y="378.5">Type a new</text><text class="m" x="1604.7" y="383.5">username</text><text class="m" x="1604.7" y="388.5">and click</text><text class="m" x="1604.7" y="393.5">submit</text>
<text class="m" x="1642" y="379.5">Type a new</text><text class="m" x="1642" y="384.5">email and</text><text class="m" x="1642" y="389.5">click submit</text>
<text class="m" x="1679.5" y="379.5">Type a new</text><text class="m" x="1679.5" y="384.5">password,</text><text class="m" x="1679.5" y="389.5">confirm, and</text><text class="m" x="1679.5" y="394.5">click submit</text>
<text class="m" x="1748.2" y="376">Tap toggle to turn off/on</text><text class="m" x="1748.2" y="381">upcoming expirations</text>
<text class="m" x="1748.2" y="409">Tap toggle to turn off/on</text><text class="m" x="1748.2" y="414">waste-tracking</text><text class="m" x="1748.2" y="419">summaries</text>
<text class="m" x="1699.5" y="434.5">Click Save Changes</text>
<text class="m" x="1794.7" y="375.5">Select dietary</text><text class="m" x="1794.7" y="380.5">restrictions from</text><text class="m" x="1794.7" y="385.5">available options</text>
<text class="m" x="1794.5" y="412">Type new</text><text class="m" x="1794.5" y="417">food goals</text>
<text class="m" x="1794.6" y="445">Select new</text><text class="m" x="1794.6" y="450">details about</text><text class="m" x="1794.6" y="455">the household</text>
<text class="m" x="1753" y="445">Select new</text><text class="m" x="1753" y="450">details about</text><text class="m" x="1753" y="455">habits</text>
</g>
<g class="s2" style="font-size:2.8px">
<text class="m" x="1522.7" y="217.5">Track</text><text class="m" x="1522.7" y="221.5">waste?</text>
<text class="m" x="1624" y="214.5">Edit</text><text class="m" x="1624" y="219">profile?</text>
<text class="m" x="1748.5" y="216">Check</text><text class="m" x="1748.5" y="219.5">account</text><text class="m" x="1748.5" y="223">informati...</text>
<text class="m" x="1866" y="217.5">Look over</text><text class="m" x="1866" y="221.5">settings?</text>
<text class="m" x="1568" y="338">Change</text><text class="m" x="1568" y="341.5">profile</text><text class="m" x="1568" y="345">photo?</text>
<text class="m" x="1606" y="340">Update</text><text class="m" x="1606" y="344">username?</text>
<text class="m" x="1642" y="340">Update</text><text class="m" x="1642" y="344">email?</text>
<text class="m" x="1679.5" y="340">Change</text><text class="m" x="1679.5" y="344">password?</text>
<text class="m" x="1748.3" y="337">Change</text><text class="m" x="1748.3" y="340.5">notification</text><text class="m" x="1748.3" y="344">preferences?</text>
<text class="m" x="1794.7" y="337">Update</text><text class="m" x="1794.7" y="340.5">personal</text><text class="m" x="1794.7" y="344">preferences?</text>
<text class="m" x="1838" y="328">Manage app</text><text class="m" x="1838" y="332">permissions?</text>
<text class="m" x="1875.7" y="328">Adjust</text><text class="m" x="1875.7" y="332">language?</text>
<text class="m" x="1837.8" y="405.5">Tap toggle to change</text><text class="m" x="1837.8" y="409">location access</text>
<text class="m" x="1837.8" y="430.5">Tap toggle to change</text><text class="m" x="1837.8" y="434">camera access</text>
<text class="m" x="1838" y="456">Read privacy &amp;</text><text class="m" x="1838" y="460">security policy</text>
<text class="m" x="1875.5" y="404.5">Scroll through</text><text class="m" x="1875.5" y="408">options to</text><text class="m" x="1875.5" y="412">change language</text>
<text class="m" x="1875.5" y="435">Tap toggle to</text><text class="m" x="1875.5" y="439">change dark/light</text><text class="m" x="1875.5" y="443">mode</text>
</g>
</svg>
</body></html>
